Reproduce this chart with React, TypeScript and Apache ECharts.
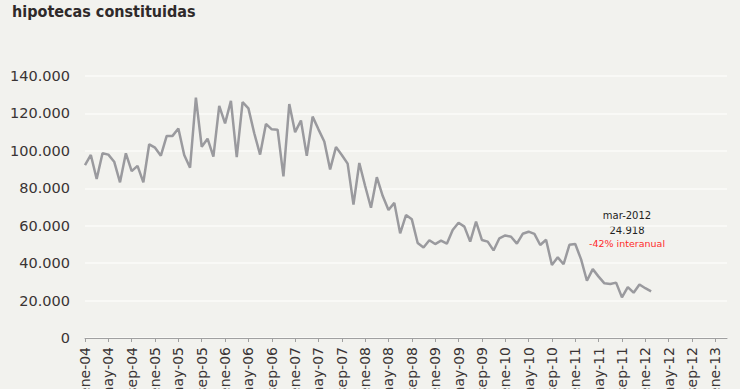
import React, { useEffect, useRef } from "react";
import * as echarts from "echarts";

const monthNames = ["ene", "feb", "mar", "abr", "may", "jun", "jul", "ago", "sep", "oct", "nov", "dic"];
const years = ["04", "05", "06", "07", "08", "09", "10", "11", "12", "13"];
// ene-04 .. mar-13
const categories: string[] = [];
for (const y of years) {
  for (const m of monthNames) {
    if (categories.length < 111) categories.push(`${m}-${y}`);
  }
}

const hipotecas = [
  92400, 97800, 85000, 98700, 98000, 94200, 83200, 98700, 89200, 92000, 83200, 103500,
  101700, 97400, 108000, 108000, 112000, 97800, 91000, 128400, 102200, 106500, 96900, 124000,
  114700, 126700, 96700, 126000, 122700, 109400, 98000, 114400, 111500, 111300, 86400, 125000,
  110000, 116200, 97300, 118300, 111500, 105000, 90100, 102000, 97800, 93200, 71300, 93500,
  81200, 69600, 85900, 76000, 68400, 72200, 55900, 65700, 63400, 50800, 48400, 52200,
  50200, 52000, 50400, 57700, 61600, 59500, 51500, 62200, 52400, 51500, 46800, 53300,
  54800, 54100, 50400, 55700, 56800, 55600, 49700, 52500, 39000, 43100, 39400, 49800,
  50200, 42000, 30600, 36800, 32800, 29200, 28900, 29600, 21700, 27200, 24200, 28600,
  26600, 24918,
];

const yTicks = { min: 0, max: 140000, interval: 20000 };
const titleText = "hipotecas constituidas";
const noteLines = ["mar-2012", "24.918", "-42% interanual"];

const fmt = (v: number) => (v === 0 ? "0" : v.toLocaleString("de-DE"));

export default function App() {
  const ref = useRef<HTMLDivElement>(null);
  useEffect(() => {
    if (!ref.current) return;
    const chart = echarts.init(ref.current, undefined, { renderer: "svg" });
    chart.setOption({
      animation: false,
      backgroundColor: "#f2f2ee",
      title: {
        text: titleText,
        left: 7,
        top: -2,
        textStyle: {
          fontFamily: "'DejaVu Sans Condensed', 'DejaVu Sans', sans-serif",
          fontSize: 16,
          fontWeight: "bold",
          color: "#2f2a2a",
        },
      },
      grid: {
        left: 85,
        right: 13,
        top: 76,
        bottom: 51,
        containLabel: false,
        outerBoundsMode: "none",
      },
      xAxis: {
        type: "category",
        data: categories,
        boundaryGap: false,
        axisLine: { show: true, lineStyle: { color: "#a0a0a0", width: 1 } },
        axisTick: { show: true, interval: 3, length: 4, lineStyle: { color: "#a0a0a0" } },
        axisLabel: {
          interval: 3,
          rotate: 90,
          margin: 9,
          fontFamily: "'DejaVu Sans', sans-serif",
          fontSize: 14,
          color: "#3a3434",
        },
        splitLine: { show: false },
      },
      yAxis: {
        type: "value",
        min: yTicks.min,
        max: yTicks.max,
        interval: yTicks.interval,
        axisLine: { show: false },
        axisTick: { show: false },
        axisLabel: {
          margin: 15,
          formatter: fmt,
          fontFamily: "'DejaVu Sans', sans-serif",
          fontSize: 14.5,
          color: "#3a3434",
        },
        splitLine: { show: true, lineStyle: { color: "#fbfbf9", width: 1.5 } },
      },
      series: [
        {
          type: "line",
          data: hipotecas,
          showSymbol: false,
          symbol: "none",
          lineStyle: { color: "#9a9a9e", width: 2.5 },
        },
      ],
      graphic: [
        {
          type: "group",
          left: 629 - 40,
          top: 210,
          children: [
            {
              type: "text",
              x: 40,
              y: 0,
              style: {
                text: noteLines[0],
                textAlign: "center",
                fontFamily: "'DejaVu Sans', sans-serif",
                fontSize: 10,
                fill: "#222222",
              },
            },
            {
              type: "text",
              x: 40,
              y: 15,
              style: {
                text: noteLines[1],
                textAlign: "center",
                fontFamily: "'DejaVu Sans', sans-serif",
                fontSize: 10,
                fill: "#222222",
              },
            },
            {
              type: "text",
              x: 40,
              y: 28,
              style: {
                text: noteLines[2],
                textAlign: "center",
                fontFamily: "'DejaVu Sans', sans-serif",
                fontSize: 9.5,
                fill: "#ff2a2a",
              },
            },
          ],
        },
      ],
    });
    return () => chart.dispose();
  }, []);
  return (
    <div
      ref={ref}
      style={{ position: "fixed", left: 0, top: 0, width: 740, height: 389 }}
    />
  );
}
